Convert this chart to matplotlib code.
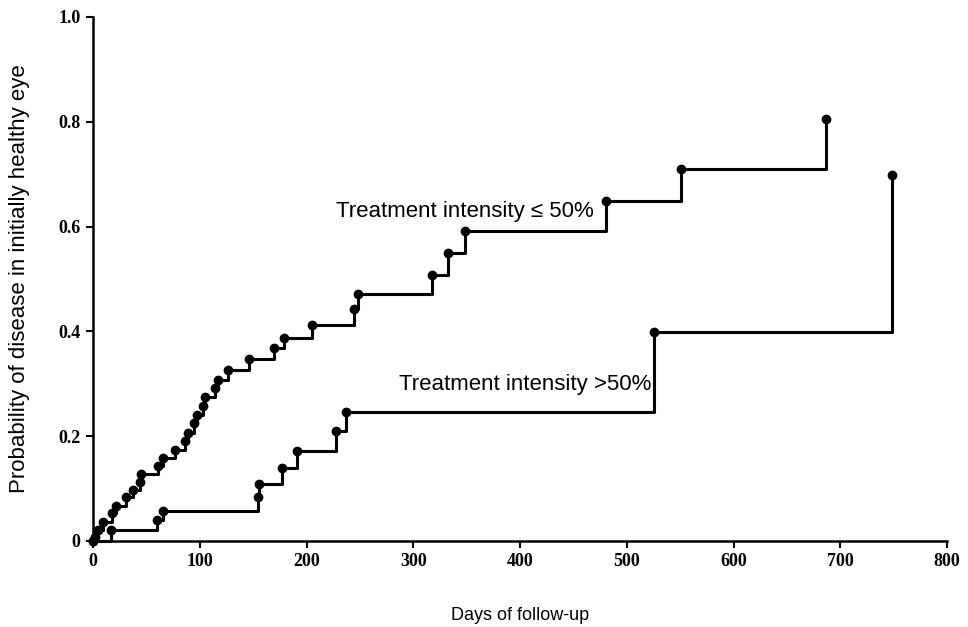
import matplotlib
matplotlib.use('Agg')
import matplotlib.pyplot as plt

# Kaplan-Meier style step points (days, cumulative probability)
low_days = [0, 1.6, 4.7, 9.4, 17.8, 21.9, 31.2, 37.5, 43.7, 45.3, 60.9, 65.6,
            76.5, 86.5, 89, 94.6, 97.4, 103, 104.6, 114, 117, 126, 146.4,
            169.8, 178.9, 204.9, 244.5, 248.5, 317.6, 332.6, 348.5, 480.6,
            550.8, 687]
low_prob = [0, 0.008, 0.021, 0.037, 0.054, 0.067, 0.083, 0.097, 0.113, 0.128,
            0.143, 0.158, 0.174, 0.19, 0.206, 0.225, 0.24, 0.258, 0.274, 0.291,
            0.307, 0.326, 0.347, 0.368, 0.387, 0.412, 0.442, 0.471, 0.508,
            0.55, 0.592, 0.649, 0.71, 0.806]

high_days = [0, 17.1, 60, 65.6, 154.6, 155.5, 177.3, 190.8, 228, 237.3,
             525.5, 748.5]
high_prob = [0, 0.02, 0.04, 0.058, 0.083, 0.108, 0.139, 0.172, 0.21, 0.247,
             0.399, 0.698]

x_ticks = [0, 100, 200, 300, 400, 500, 600, 700, 800]
y_ticks = [0, 0.2, 0.4, 0.6, 0.8, 1.0]
y_ticklabels = ['0', '0.2', '0.4', '0.6', '0.8', '1.0']

fig = plt.figure(figsize=(9.68, 6.27), dpi=100)
ax = fig.add_axes([0.0961, 0.1372, 0.8822, 0.8357])

for days, prob in [(low_days, low_prob), (high_days, high_prob)]:
    ax.step(days, prob, where='post', color='black', lw=2.2, clip_on=False)
    ax.plot(days, prob, 'o', color='black', ms=6, clip_on=False, zorder=3)

ax.text(228, 0.628, 'Treatment intensity \u2264 50%', fontsize=16,
        family='Liberation Sans', va='center', ha='left')
ax.text(287, 0.298, 'Treatment intensity >50%', fontsize=16,
        family='Liberation Sans', va='center', ha='left')

ax.set_xlim(0, 800)
ax.set_ylim(0, 1.0)
ax.set_xticks(x_ticks)
ax.set_yticks(y_ticks)
ax.set_yticklabels(y_ticklabels)
for lab in ax.get_xticklabels() + ax.get_yticklabels():
    lab.set_family('Liberation Serif')
    lab.set_fontsize(13)
    lab.set_fontweight('bold')

ax.spines['top'].set_visible(False)
ax.spines['right'].set_visible(False)
ax.spines['left'].set_linewidth(1.8)
ax.spines['bottom'].set_linewidth(1.8)
ax.tick_params(direction='out', length=5, width=1.5, pad=4)

ax.set_xlabel('Days of follow-up', fontsize=13, family='Liberation Sans',
              labelpad=26)
ax.set_ylabel('Probability of disease in initially healthy eye', fontsize=16,
              family='Liberation Sans', labelpad=20)

fig.savefig('out.png', dpi=100)
